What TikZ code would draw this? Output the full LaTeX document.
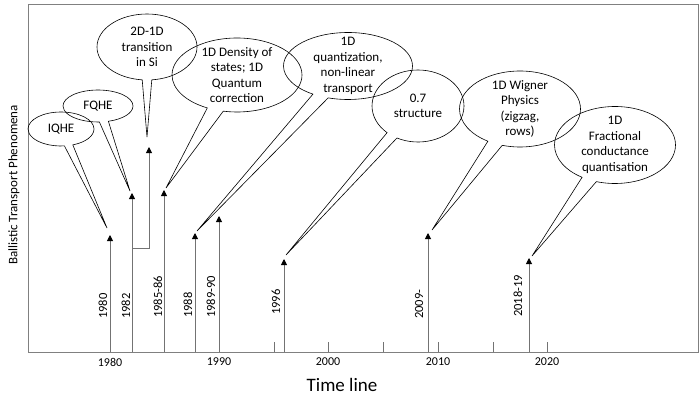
\documentclass[tikz,border=0pt]{standalone}
\usepackage{fontspec}
\setmainfont{Carlito}
\usetikzlibrary{shapes.callouts,arrows.meta}

\tikzset{
	bubble/.style={ellipse callout, draw, semithick, inner xsep=0pt, inner ysep=-6pt, align=center, font=\fontsize{13}{15.5}\selectfont},
	yarrow/.style={draw=black!55, line width=0.9pt, -{Triangle[width=6pt,length=6pt,color=black]}},
	yearlabel/.style={rotate=90, anchor=base west, inner sep=0pt, font=\fontsize{12.5}{14}\selectfont},
	ticklabel/.style={inner sep=0pt, font=\fontsize{12}{14}\selectfont},
}

\begin{document}
\begin{tikzpicture}[x=1pt,y=-1pt]
				\useasboundingbox (0,0) rectangle (700,396);
				\draw[black!50, thick] (28,4) rectangle (698,352);
				
				\coordinate (b1980) at (110,352);
				\coordinate (t1980) at (110,235);
				\coordinate (b1982) at (132,352);
				\coordinate (t1982) at (132,193);
				\coordinate (k1) at (132,248);
				\coordinate (k2) at (149,248);
				\coordinate (t1983) at (149,147);
				\coordinate (b1985) at (164,352);
				\coordinate (t1985) at (164,190);
				\coordinate (b1988) at (195,352);
				\coordinate (t1988) at (195,233);
				\coordinate (b1990) at (219,352);
				\coordinate (t1990) at (219,216);
				\coordinate (b1996) at (284,352);
				\coordinate (t1996) at (284,259);
				\coordinate (b2009) at (428,352);
				\coordinate (t2009) at (428,233);
				\coordinate (b2018) at (529,352);
				\coordinate (t2018) at (529,258);
				
				\draw[yarrow] (b1980) -- (t1980);
				\draw[yarrow] (b1982) -- (t1982);
				\draw[yarrow] (k1) -- (k2) -- (t1983);
				\draw[yarrow] (b1985) -- (t1985);
				\draw[yarrow] (b1988) -- (t1988);
				\draw[yarrow] (b1990) -- (t1990);
				\draw[yarrow] (b1996) -- (t1996);
				\draw[yarrow] (b2009) -- (t2009);
				\draw[yarrow] (b2018) -- (t2018);
				
				\draw[black!55] (274,352) -- (274,342);
				\draw[black!55] (328,352) -- (328,342);
				\draw[black!55] (383,352) -- (383,342);
				\draw[black!55] (438,352) -- (438,342);
				\draw[black!55] (493,352) -- (493,342);
				\draw[black!55] (547,352) -- (547,342);
				
				\node[yearlabel] (l1980) at (107,319) {1980};
				\node[yearlabel] (l1982) at (130,319) {1982};
				\node[yearlabel] (l1985) at (162,318) {1985-86};
				\node[yearlabel] (l1988) at (192,318) {1988};
				\node[yearlabel] (l1990) at (215,318) {1989-90};
				\node[yearlabel] (l1996) at (280,315) {1996};
				\node[yearlabel] (l2009) at (423,319) {2009-};
				\node[yearlabel] (l2018) at (522,317) {2018-19};
				
				\node[ticklabel] (x1980) at (110,362) {1980};
				\node[ticklabel] (x1990) at (219,362) {1990};
				\node[ticklabel] (x2000) at (328,362) {2000};
				\node[ticklabel] (x2010) at (438,362) {2010};
				\node[ticklabel] (x2020) at (547,362) {2020};
				
				\node[font=\fontsize{19}{22}\selectfont] (xlabel) at (342,385) {Time line};
				\node[rotate=90, font=\fontsize{13}{16}\selectfont] (ylabel) at (14,185) {Ballistic Transport Phenomena};
				
				\coordinate (p1) at (107,228);
				\coordinate (p2) at (130,191);
				\coordinate (p3) at (147,137);
				\coordinate (p4) at (166,188);
				\coordinate (p5) at (197,231);
				\coordinate (p6) at (286,255);
				\coordinate (p7) at (432,230);
				\coordinate (p8) at (532,256);
				
				\node[bubble, minimum width=66pt, minimum height=34pt, callout absolute pointer=(p1)] (iqhe) at (61,129) {IQHE};
				\node[bubble, minimum width=70pt, minimum height=32pt, callout absolute pointer=(p2)] (fqhe) at (98,106) {FQHE};
				\node[bubble, minimum width=100pt, minimum height=66pt, callout pointer arc=11, callout absolute pointer=(p3)] (trans) at (147,47) {2D-1D\\transition\\in Si};
				\node[bubble, minimum width=130pt, minimum height=74pt, callout absolute pointer=(p4)] (dos) at (237,75) {1D Density of\\states; 1D\\Quantum\\correction};
				\node[bubble, minimum width=129pt, minimum height=67pt, callout absolute pointer=(p5)] (quant) at (348,66) {1D\\quantization,\\non-linear\\transport};
				\node[bubble, minimum width=92pt, minimum height=72pt, callout absolute pointer=(p6)] (struct) at (418,106) {0.7\\structure};
				\node[bubble, minimum width=121pt, minimum height=76pt, callout absolute pointer=(p7)] (wigner) at (520,109) {1D Wigner\\Physics\\(zigzag,\\rows)};
				\node[bubble, minimum width=121pt, minimum height=77pt, callout absolute pointer=(p8)] (frac) at (615,145) {1D\\Fractional\\conductance\\quantisation};
\end{tikzpicture}
\end{document}
